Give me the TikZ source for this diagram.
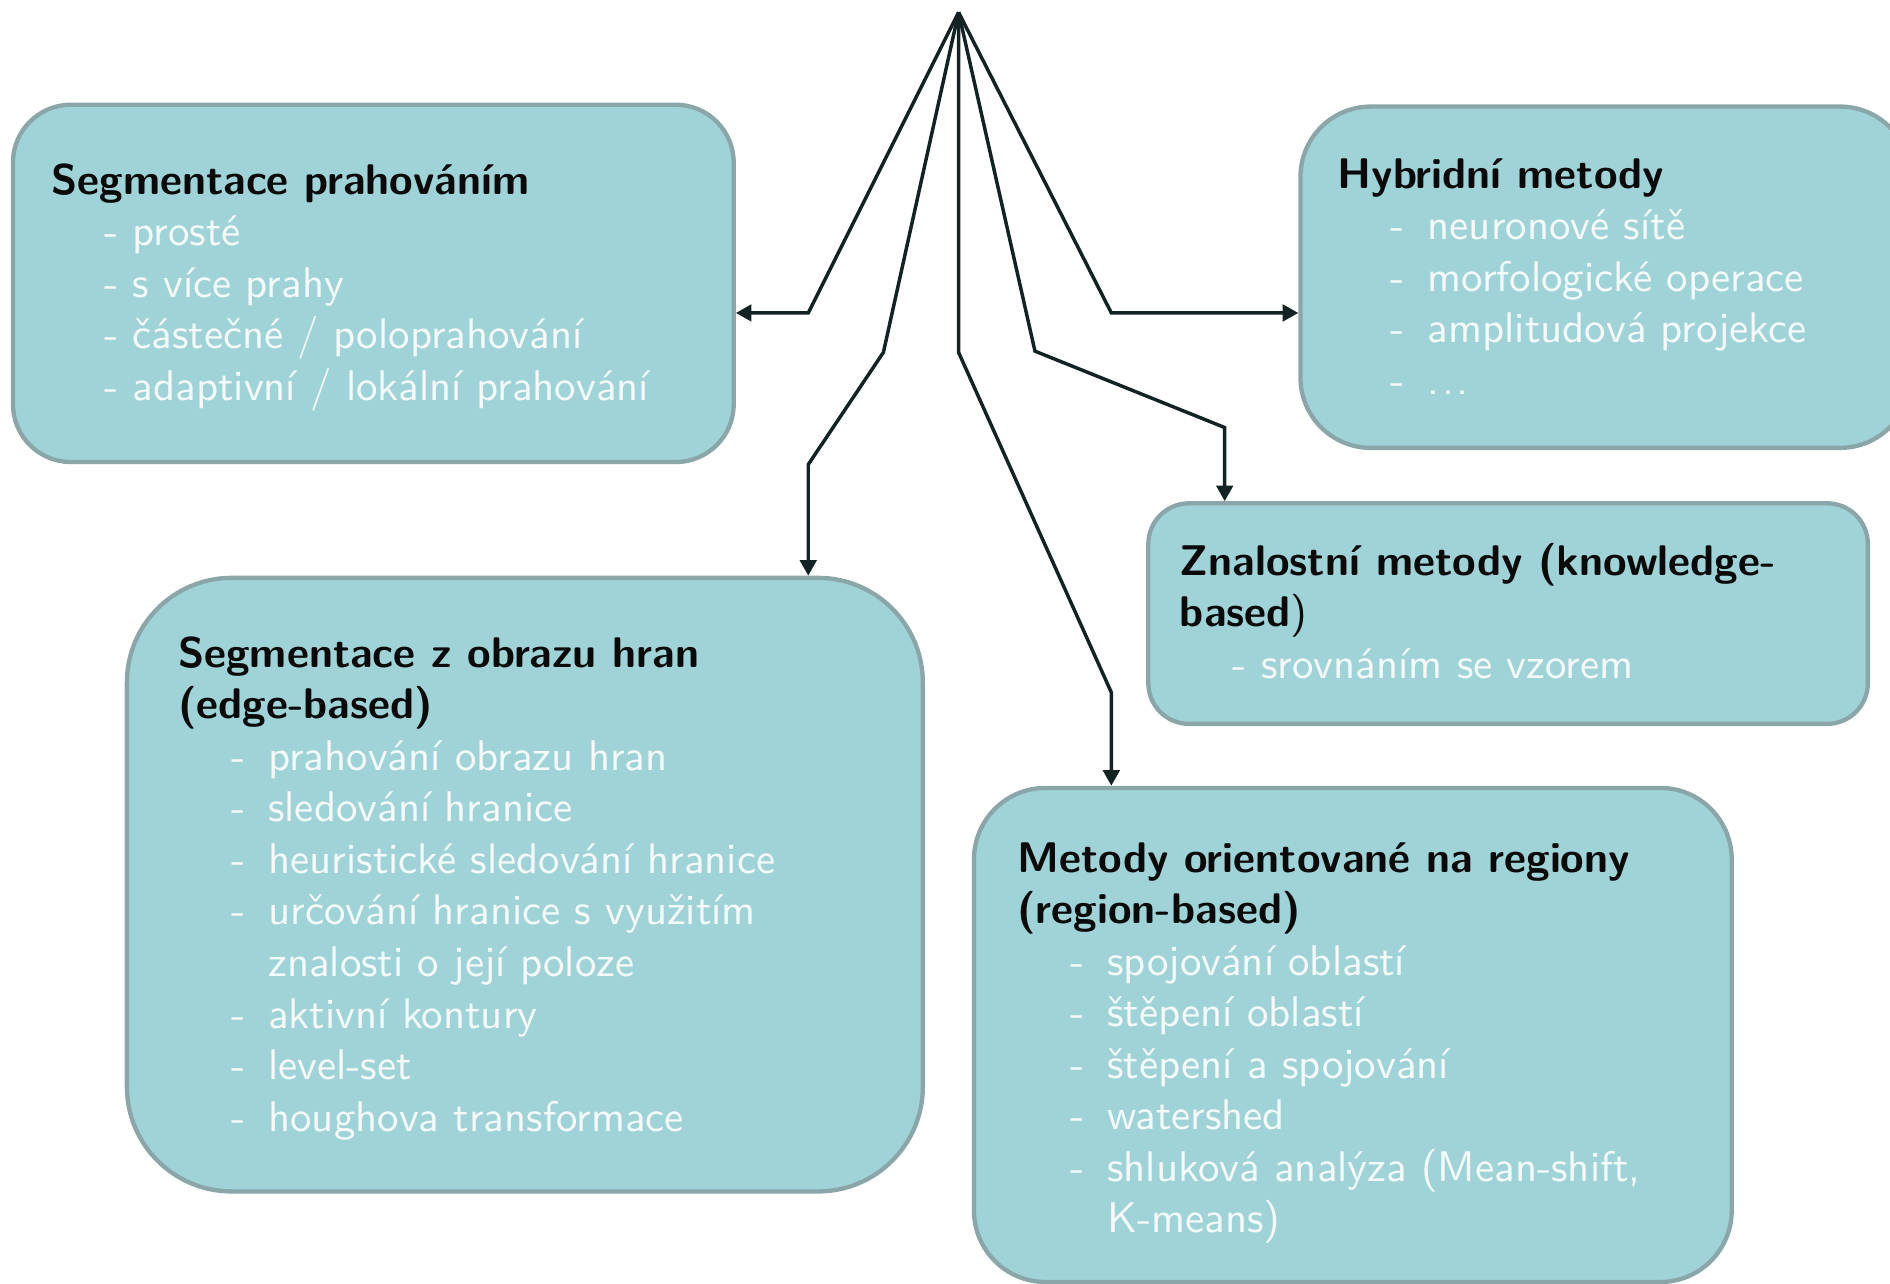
\documentclass[tikz,border=0pt]{standalone}
\usepackage{fontspec}
\usepackage{tikz}
\usetikzlibrary{calc, positioning, arrows.meta}
\definecolor{color_fill}{HTML}{A0D3D7}
\definecolor{color_edge}{HTML}{8AA6A8}
\definecolor{color_text}{HTML}{0A0A0A}
\definecolor{color_item}{HTML}{F4FAFA}
\definecolor{color_arrow}{HTML}{132222}
\newcommand{\nadpis}[1]{{\color{color_text}\bfseries #1}}
\newcommand{\polozka}[1]{\hspace*{12.2pt}-\ #1}
\newcommand{\polozkaTab}[1]{\hspace*{12.2pt}\makebox[8.6pt][l]{-}#1}
\newcommand{\pokracovani}[1]{\hspace*{20.8pt}#1}
\tikzset{
  method_box/.style={draw=color_edge, line width=1pt, fill=color_fill, inner sep=0pt},
  box_text/.style={anchor=north west, inner sep=0pt, align=left, text=color_item, font=\sffamily\fontsize{9.9}{11.9}\selectfont},
  branch_arrow/.style={-{Triangle[length=3.6pt, width=3.8pt]}, draw=color_arrow, line width=0.8pt},
}

\begin{document}
\begin{tikzpicture}
    \useasboundingbox (0,0) rectangle (15.34,-10.42);
    % boxes
    \node[method_box, rounded corners=0.47cm, minimum width=5.85cm, minimum height=2.90cm] (thresh_box) at (3.03,-2.30) {};
    \node[method_box, rounded corners=0.57cm, minimum width=4.95cm, minimum height=2.77cm] (hybrid_box) at (13.03,-2.25) {};
    \node[method_box, rounded corners=0.33cm, minimum width=5.84cm, minimum height=1.79cm] (knowledge_box) at (12.24,-4.98) {};
    \node[method_box, rounded corners=0.85cm, minimum width=6.46cm, minimum height=4.98cm] (edge_box) at (4.26,-7.18) {};
    \node[method_box, rounded corners=0.58cm, minimum width=6.15cm, minimum height=4.01cm] (region_box) at (10.98,-8.40) {};
    % texts
    \node[box_text] (thresh_text) at (0.41,-1.32) {\nadpis{Segmentace prahováním}\\
      \polozka{prosté}\\
      \polozka{s více prahy}\\
      \polozka{částečné / poloprahování}\\
      \polozka{adaptivní / lokální prahování}};
    \node[box_text] (hybrid_text) at (10.85,-1.28) {\nadpis{Hybridní metody}\\
      \polozkaTab{neuronové sítě}\\
      \polozkaTab{morfologické operace}\\
      \polozkaTab{amplitudová projekce}\\
      \polozkaTab{.\kern0.6pt.\kern0.6pt.}};
    \node[box_text] (knowledge_text) at (9.57,-4.40) {\nadpis{Znalostní metody (knowledge-}\\
      \nadpis{based}{\color{color_text})}\\
      \polozka{srovnáním se vzorem}};
    \node[box_text] (edge_text) at (1.44,-5.16) {\nadpis{Segmentace z obrazu hran}\\
      \nadpis{(edge-based)}\\
      \polozkaTab{prahování obrazu hran}\\
      \polozkaTab{sledování hranice}\\
      \polozkaTab{heuristické sledování hranice}\\
      \polozkaTab{určování hranice s využitím}\\
      \pokracovani{znalosti o její poloze}\\
      \polozkaTab{aktivní kontury}\\
      \polozkaTab{level-set}\\
      \polozkaTab{houghova transformace}};
    \node[box_text] (region_text) at (8.25,-6.83) {\nadpis{Metody orientované na regiony}\\
      \nadpis{(region-based)}\\
      \polozkaTab{spojování oblastí}\\
      \polozkaTab{štěpení oblastí}\\
      \polozkaTab{štěpení a spojování}\\
      \polozkaTab{watershed}\\
      \polozkaTab{shluková analýza (Mean-shift,}\\
      \pokracovani{K-means)}};
    % connectors
    \coordinate (apex) at (7.78,-0.10);
    \coordinate (bend_thresh) at (6.56,-2.54);
    \coordinate (bend_edge) at (6.56,-3.77);
    \coordinate (bend_region) at (9.02,-5.62);
    \coordinate (bend_knowledge) at (9.94,-3.47);
    \coordinate (bend_hybrid) at (9.02,-2.54);
    \draw[branch_arrow] (apex) -- (bend_thresh) -- (bend_thresh -| thresh_box.east);
    \draw[branch_arrow] (apex) -- (7.17,-2.86) -- (bend_edge) -- (bend_edge |- edge_box.north);
    \draw[branch_arrow] (apex) -- (7.78,-2.86) -- (bend_region) -- (bend_region |- region_box.north);
    \draw[branch_arrow] (apex) -- (8.40,-2.85) -- (bend_knowledge) -- (bend_knowledge |- knowledge_box.north);
    \draw[branch_arrow] (apex) -- (bend_hybrid) -- (bend_hybrid -| hybrid_box.west);
\end{tikzpicture}
\end{document}
